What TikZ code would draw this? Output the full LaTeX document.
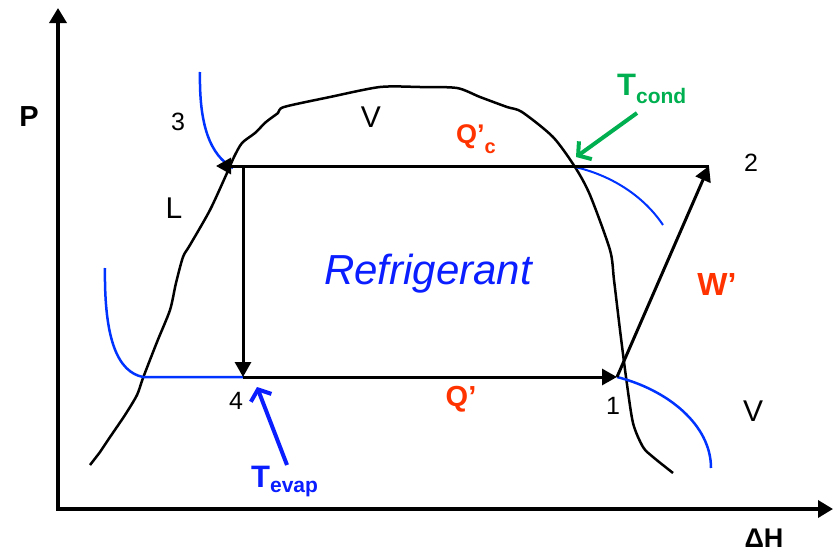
\documentclass[tikz,border=0pt]{standalone}
\usepackage{fontspec}
\setmainfont{Liberation Sans}
\usepackage{tikz}
\usetikzlibrary{arrows.meta,calc}
\definecolor{heatred}{HTML}{FF3300}
\definecolor{condgreen}{HTML}{00B050}
\definecolor{evapblue}{HTML}{0A1EFF}
\definecolor{isoblue}{HTML}{0033FF}
\newcommand{\fsz}[1]{\fontsize{#1}{#1}\selectfont}

\begin{document}
\begin{tikzpicture}[x=1pt, y=-1pt,
  axis/.style={line width=3.5pt, -{Triangle[length=15pt,width=17pt]}},
  proc/.style={line width=3pt, -{Triangle[length=15pt,width=16pt]}},
  iso/.style={isoblue, line width=2.5pt},
  pointer/.style={line width=4pt, -{Straight Barb[length=9pt,width=22pt,line width=4pt]}},
  lbl/.style={inner sep=0pt, anchor=center}]
\useasboundingbox (0,0) rectangle (838,554);
% axes
\coordinate (origin) at (58,509);
\coordinate (ptop) at (58,8);
\coordinate (hend) at (833,509);
\draw[axis, line cap=rect] (origin) -- (ptop);
\draw[axis] (origin) -- (hend);
\node[lbl, font=\fsz{29}\bfseries] (plabel) at (29,117) {P};
\node[inner sep=0pt, anchor=base, text depth=0pt, font=\fsz{27}\bfseries] (hlabel) at (764,547) {ΔH};
% saturation dome
\draw[line width=2.5pt, line join=round] plot[smooth, tension=0.45] coordinates {
  (90,465) (100,452) (108,440) (125,415) (137,395) (143,378) (157,342)
  (170,310) (176,283) (183,257) (190,245) (210,210) (227,173) (234,157)
  (242,143) (255,133) (266,122) (278,113) (284,107) (330,97) (380,87)
  (420,87) (457,88) (480,97) (507,107) (522,112) (553,137) (575,167)
  (590,195) (610,250) (614,280) (620,330) (626,377) (633,423) (643,447)
  (653,457) (673,473)};
% isotherms
\coordinate (s1) at (617,377);
\coordinate (s2) at (709,166);
\coordinate (s3) at (216,166);
\coordinate (s4) at (243,377);
\coordinate (c3) at (243,166);
\coordinate (satl) at (143,377);
\draw[iso] (105,268) .. controls (104,340) and (118,372) .. (satl) -- (s4);
\draw[iso] (200,72) .. controls (199,125) and (210,155) .. (233,168);
\draw[iso, line width=2pt] (575,167) .. controls (610,175) and (643,195) .. (663,225);
\draw[iso] (s1) .. controls (668,390) and (711,425) .. (711,468);
% cycle
\draw[proc] (s2) -- (s3);
\draw[proc] (c3) -- (s4);
\draw[proc] (s4) -- (s1);
\draw[proc] (s1) -- (s2);
% labels
\node[lbl, font=\fsz{25}] (one) at (613,406) {1};
\node[lbl, font=\fsz{25}] (two) at (751,163) {2};
\node[lbl, font=\fsz{25}] (three) at (178,122) {3};
\node[lbl, font=\fsz{25}] (four) at (236,401) {4};
\node[lbl, font=\fsz{30}] (vtop) at (371,117) {V};
\node[lbl, font=\fsz{30}] (vright) at (753,411) {V};
\node[lbl, font=\fsz{30}] (liq) at (174,208) {L};
\node[lbl, font=\fsz{42}\itshape, text=evapblue] (refr) at (428,274) {Refrigerant};
\node[inner sep=0pt, anchor=base west, font=\fsz{27}\bfseries, text=heatred] (qc) at (456,143)
  {Q’\raisebox{-10pt}{\fsz{20}c}};
\node[lbl, font=\fsz{29}\bfseries, text=heatred] (qe) at (461,399) {Q’};
\node[lbl, font=\fsz{32}\bfseries, text=heatred] (work) at (717,284) {W’};
\node[inner sep=0pt, anchor=base west, font=\fsz{31}\bfseries, text=condgreen] (tcond) at (617,95)
  {T\raisebox{-8pt}{\fsz{21}cond}};
\node[inner sep=0pt, anchor=base west, font=\fsz{31}\bfseries, text=evapblue] (tevap) at (251,487)
  {T\raisebox{-5pt}{\fsz{21}evap}};
\coordinate (condtail) at (637,113);
\coordinate (condtip) at (576,157);
\coordinate (evaptail) at (287,465);
\coordinate (evaptip) at (257,387);
\draw[pointer, condgreen] (condtail) -- (condtip);
\draw[pointer, evapblue] (evaptail) -- (evaptip);
\end{tikzpicture}
\end{document}
